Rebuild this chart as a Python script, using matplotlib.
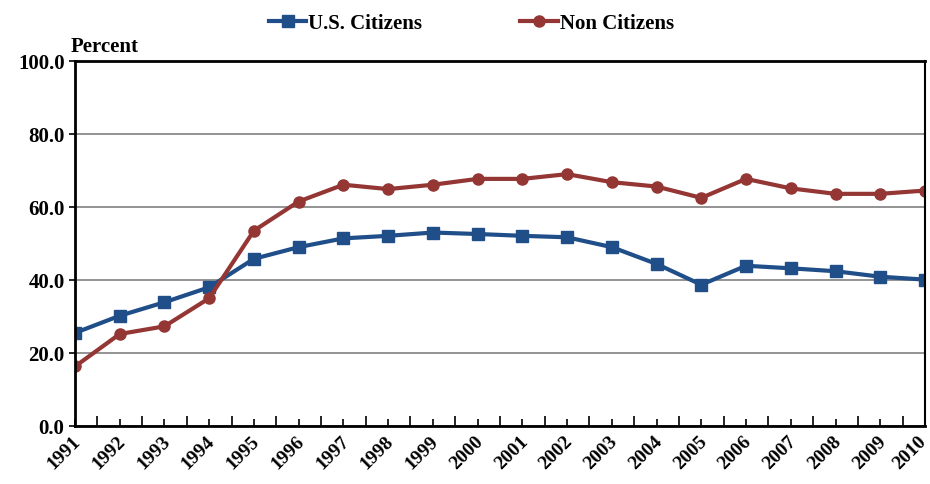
import numpy as np
import matplotlib.pyplot as plt
import matplotlib.transforms as mtransforms
from matplotlib.ticker import FixedLocator

years = list(range(1991, 2011))
us_citizens = [25.5, 30.2, 33.9, 38.0, 45.8, 49.0, 51.4, 52.1, 53.0, 52.6,
               52.1, 51.7, 49.0, 44.4, 38.7, 43.9, 43.2, 42.4, 40.9, 40.1]
non_citizens = [16.3, 25.2, 27.3, 35.0, 53.5, 61.5, 66.1, 64.9, 66.1, 67.7,
                67.7, 69.0, 66.8, 65.6, 62.5, 67.7, 65.1, 63.6, 63.6, 64.5]
y_ticks = [0, 20, 40, 60, 80, 100]

plt.rcParams['font.family'] = ['Liberation Serif', 'DejaVu Serif']
plt.rcParams['font.weight'] = 'bold'

fig = plt.figure(figsize=(9.3, 4.85), dpi=100)
ax = fig.add_axes([0.0806, 0.1196, 0.9140, 0.7526])

x = np.arange(len(years))
ax.plot(x, us_citizens, color='#1F4E89', lw=3, marker='s', ms=8,
        label='U.S. Citizens')
ax.plot(x, non_citizens, color='#943634', lw=3, marker='o', ms=8,
        label='Non Citizens')

ax.set_xlim(0, len(years) - 1)
ax.set_ylim(0, 100)
ax.set_yticks(y_ticks)
ax.set_yticklabels(['%.1f' % v for v in y_ticks], fontsize=15, fontweight='bold')
ax.set_xticks(x)
ax.set_xticklabels([])
ax.xaxis.set_minor_locator(FixedLocator(x[:-1] + 0.5))
ax.tick_params(axis='x', which='major', direction='in', length=5, width=1.2)
ax.tick_params(axis='x', which='minor', direction='in', length=7, width=1.2)
ax.tick_params(axis='y', direction='out', length=4, width=1.2)

# year labels drawn by hand so the last one can be kept inside the picture
base = mtransforms.blended_transform_factory(ax.transData, ax.transAxes)
for i, yr in enumerate(years):
    dx = -7 if i == len(years) - 1 else -3
    off = mtransforms.ScaledTranslation(dx / 100, -6 / 100, fig.dpi_scale_trans)
    ax.text(x[i], 0, str(yr), transform=base + off, rotation=45, ha='right',
            va='top', rotation_mode='anchor', fontsize=14, fontweight='bold')

ax.grid(axis='y', color='#808080', lw=1.2)
ax.set_axisbelow(True)
for side in ['left', 'bottom', 'top']:
    ax.spines[side].set_linewidth(2)
ax.spines['right'].set_linewidth(1.5)

ax.text(-0.005, 1.015, 'Percent', transform=ax.transAxes, fontsize=15,
        fontweight='bold', ha='left', va='bottom')

fig.legend(loc='upper center', bbox_to_anchor=(0.507, 1.01), ncol=2, frameon=False,
           prop={'size': 15, 'weight': 'bold'}, handlelength=1.8,
           handletextpad=0.1, columnspacing=4.7)

fig.savefig('out.png', dpi=100)
